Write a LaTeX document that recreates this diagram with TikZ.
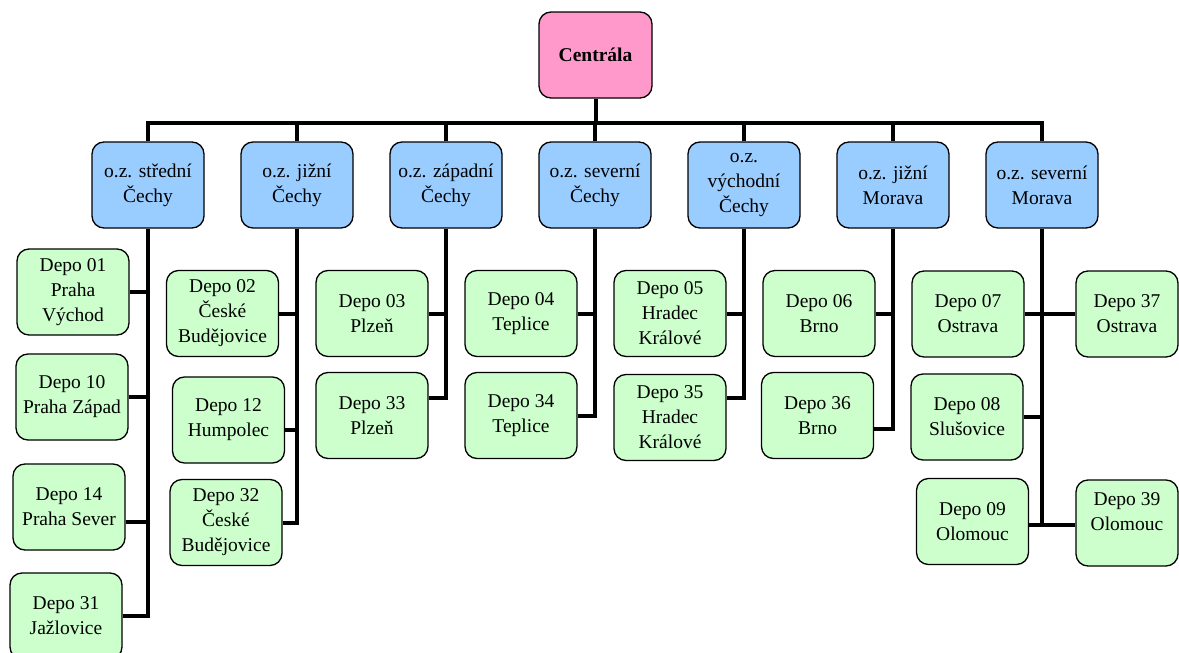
\documentclass[tikz,border=0pt]{standalone}
\usepackage{fontspec}
\setmainfont{Liberation Serif}
\usetikzlibrary{backgrounds}
\definecolor{hqpink}{RGB}{255,153,204}
\definecolor{regblue}{RGB}{153,204,255}
\definecolor{depgreen}{RGB}{204,255,204}
\tikzset{
  box/.style={draw=black, line width=1.3pt, rounded corners=12pt, align=center,
    inner sep=0pt, minimum width=112pt, minimum height=86pt,
    font=\fontsize{19.5}{25}\selectfont},
  hqbox/.style={box, fill=hqpink, minimum width=113pt, font=\fontsize{19.5}{25}\selectfont\bfseries},
  regbox/.style={box, fill=regblue},
  depbox/.style={box, fill=depgreen},
  conn/.style={draw=black, line width=4pt, line join=miter}
}
\begin{document}
\begin{tikzpicture}[x=1pt, y=-1pt]
\useasboundingbox (0,0) rectangle (1179,653);
\clip (0,0) rectangle (1179,653);

% headquarters
\node[hqbox] (hq) at (595.5,55) {Centrála};

% regional branches
\node[regbox] (r1) at (148,185) {o.z. střední\\Čechy};
\node[regbox] (r2) at (297,185) {o.z. jižní\\Čechy};
\node[regbox] (r3) at (446,185) {o.z. západní\\Čechy};
\node[regbox] (r4) at (595,185) {o.z. severní\\Čechy};
\node[regbox] (r5) at (744,185) {o.z.\\východní\\Čechy};
\node[regbox] (r6) at (893,185) {o.z. jižní\\Morava};
\node[regbox] (r7) at (1042,185) {o.z. severní\\Morava};

% depots
\node[depbox] (d01) at (73,292) {Depo 01\\Praha\\Východ};
\node[depbox] (d10) at (72,397) {Depo 10\\Praha Západ};
\node[depbox] (d14) at (69,507) {Depo 14\\Praha Sever};
\node[depbox] (d31) at (66,616) {Depo 31\\Jažlovice};

\node[depbox] (d02) at (222.5,313.5) {Depo 02\\České\\Budějovice};
\node[depbox] (d12) at (228.5,420) {Depo 12\\Humpolec};
\node[depbox] (d32) at (226,522.5) {Depo 32\\České\\Budějovice};

\node[depbox] (d03) at (372,313.5) {Depo 03\\Plzeň};
\node[depbox] (d33) at (372,415.5) {Depo 33\\Plzeň};

\node[depbox] (d04) at (521,313.5) {Depo 04\\Teplice};
\node[depbox] (d34) at (521,415.5) {Depo 34\\Teplice};

\node[depbox] (d05) at (670,313.5) {Depo 05\\Hradec\\Králové};
\node[depbox] (d35) at (670,417.5) {Depo 35\\Hradec\\Králové};

\node[depbox] (d06) at (819,313.5) {Depo 06\\Brno};
\node[depbox] (d36) at (817.5,415.5) {Depo 36\\Brno};

\node[depbox] (d07) at (968,314) {Depo 07\\Ostrava};
\node[depbox, minimum width=102pt] (d37) at (1127,314) {Depo 37\\Ostrava};
\node[depbox] (d08) at (967,417) {Depo 08\\Slušovice};
\node[depbox] (d09) at (972.5,521.5) {Depo 09\\Olomouc};
\node[depbox, minimum width=102pt] (d39) at (1127,523) {};
\node[align=center, font=\fontsize{19.5}{25}\selectfont] (d39text) at ([yshift=11pt]d39.center) {Depo 39\\Olomouc};

% bus level between the headquarters and the branches
\coordinate (busL) at (r1.north |- 0,123);
\coordinate (busR) at (r7.north |- 0,123);

\begin{scope}[on background layer]
  % bus from headquarters to the branches
  \draw[conn] (hq.south) -- (hq.south |- busL);
  \draw[conn] (r1.north) -- (busL) -- (busR) -- (r7.north);
  \foreach \r in {r2,r3,r4,r5,r6}
    \draw[conn] (\r.north) -- (\r.north |- busL);

  % střední Čechy
  \draw[conn] (r1.south) |- (d31.east);
  \draw[conn] (d01.east) -- (d01.east -| r1.south);
  \draw[conn] (d10.east) -- (d10.east -| r1.south);
  \draw[conn] ([yshift=-15pt]d14.east) -- ([yshift=-15pt]d14.east -| r1.south);

  % jižní Čechy
  \draw[conn] (r2.south) |- (d32.east);
  \draw[conn] (d02.east) -- (d02.east -| r2.south);
  \draw[conn] ([yshift=-10pt]d12.east) -- ([yshift=-10pt]d12.east -| r2.south);

  % západní Čechy
  \draw[conn] (r3.south) |- ([yshift=17.5pt]d33.east);
  \draw[conn] (d03.east) -- (d03.east -| r3.south);

  % severní Čechy
  \draw[conn] (r4.south) |- (d34.east);
  \draw[conn] (d04.east) -- (d04.east -| r4.south);

  % východní Čechy
  \draw[conn] (r5.south) |- ([yshift=20pt]d35.east);
  \draw[conn] (d05.east) -- (d05.east -| r5.south);

  % jižní Morava
  \draw[conn] (r6.south) |- ([yshift=-13.5pt]d36.east);
  \draw[conn] (d06.east) -- (d06.east -| r6.south);

  % severní Morava
  \draw[conn] (r7.south) -- (r7.south |- 0,525);
  \draw[conn] (d07.east) -- (d37.west);
  \draw[conn] (d08.east) -- (d08.east -| r7.south);
  \draw[conn] (d09.east |- 0,525) -- (d39.west |- 0,525);
\end{scope}
\end{tikzpicture}
\end{document}
